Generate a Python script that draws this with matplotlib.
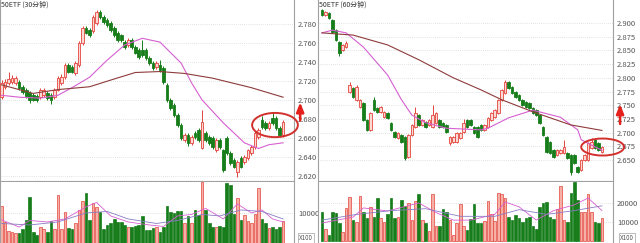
import matplotlib
matplotlib.use("Agg")
import matplotlib.pyplot as plt
from matplotlib.patches import Ellipse

plt.rcParams['font.family'] = ['Noto Sans CJK SC', 'DejaVu Sans']

# ---- 50ETF 30 minute candles (open, high, low, close) ----
l_open = [2.703,2.714,2.718,2.719,2.718,2.719,2.714,2.711,2.707,2.705,
          2.704,2.703,2.705,2.707,2.705,2.703,2.711,2.718,2.724,2.737,
          2.735,2.728,2.737,2.760,2.776,2.774,2.773,2.781,2.793,2.787,
          2.784,2.781,2.776,2.771,2.768,2.761,2.758,2.763,2.756,2.753,
          2.753,2.753,2.744,2.739,2.735,2.737,2.734,2.716,2.700,2.695,
          2.684,2.674,2.658,2.663,2.655,2.665,2.669,2.650,2.665,2.661,
          2.660,2.647,2.658,2.647,2.660,2.644,2.637,2.624,2.639,2.635,
          2.639,2.644,2.651,2.661,2.679,2.676,2.671,2.681,2.681,2.671,
          2.663]
l_high = [2.721,2.722,2.729,2.726,2.725,2.721,2.716,2.713,2.709,2.707,
          2.706,2.713,2.713,2.709,2.707,2.713,2.725,2.727,2.739,2.739,
          2.737,2.741,2.762,2.778,2.778,2.776,2.789,2.795,2.795,2.789,
          2.786,2.783,2.778,2.773,2.770,2.763,2.765,2.765,2.758,2.755,
          2.763,2.755,2.746,2.741,2.741,2.742,2.736,2.718,2.702,2.697,
          2.686,2.676,2.665,2.665,2.663,2.667,2.671,2.690,2.667,2.663,
          2.662,2.660,2.660,2.649,2.662,2.646,2.639,2.637,2.641,2.642,
          2.649,2.653,2.667,2.671,2.683,2.678,2.678,2.687,2.683,2.673,
          2.679]
l_low = [2.701,2.712,2.716,2.717,2.716,2.711,2.706,2.702,2.697,2.699,
         2.698,2.701,2.703,2.700,2.696,2.701,2.709,2.716,2.722,2.728,
         2.728,2.726,2.735,2.758,2.769,2.766,2.771,2.779,2.785,2.780,
         2.777,2.772,2.766,2.761,2.761,2.754,2.756,2.754,2.748,2.743,
         2.745,2.742,2.737,2.732,2.733,2.730,2.717,2.698,2.690,2.682,
         2.672,2.658,2.656,2.652,2.653,2.659,2.656,2.648,2.656,2.653,
         2.649,2.645,2.649,2.624,2.642,2.632,2.628,2.619,2.628,2.633,
         2.637,2.642,2.649,2.659,2.670,2.669,2.669,2.674,2.669,2.661,
         2.661]
l_close = [2.718,2.719,2.722,2.723,2.723,2.713,2.708,2.704,2.700,2.700,
           2.700,2.711,2.711,2.702,2.700,2.711,2.723,2.724,2.737,2.730,
           2.730,2.739,2.760,2.776,2.771,2.768,2.787,2.793,2.787,2.782,
           2.779,2.774,2.768,2.763,2.763,2.756,2.763,2.756,2.750,2.745,
           2.747,2.744,2.739,2.734,2.739,2.732,2.719,2.700,2.692,2.684,
           2.674,2.660,2.663,2.655,2.661,2.661,2.658,2.677,2.658,2.655,
           2.651,2.658,2.651,2.626,2.644,2.634,2.630,2.635,2.630,2.640,
           2.647,2.651,2.665,2.669,2.672,2.671,2.676,2.676,2.671,2.663,
           2.677]
l_vol = [12300,7000,4000,3700,3300,3300,4700,7700,15300,3700,
         2700,5300,4700,3500,7300,4700,16000,4700,10300,5000,
         4700,6700,11000,14000,16700,7700,13300,12000,10300,4700,
         6000,6700,8000,7000,7000,6000,5300,5300,5500,6000,
         9000,4300,4300,5000,5300,3700,5300,12300,10300,10000,
         10700,10700,6700,8900,6700,11000,9400,20300,11000,6700,
         5400,5400,5700,5300,20000,19300,9700,15000,7700,9400,
         7300,6700,9700,18300,8000,6700,5000,5300,4700,5300,
         7300]
# moving averages: (candle index, value)
l_ma_short_idx = [0, 5, 11, 16, 20, 25, 30, 35, 40, 45, 51, 54, 57, 63, 69, 73, 76, 80]
l_ma_short = [2.705, 2.703, 2.702, 2.705, 2.713, 2.724, 2.742, 2.758, 2.765, 2.761,
              2.739, 2.718, 2.700, 2.676, 2.655, 2.649, 2.653, 2.655]
l_ma_long_idx = [0, 5, 9, 16, 25, 31, 38, 45, 52, 60, 71, 80]
l_ma_long = [2.716, 2.711, 2.707, 2.711, 2.714, 2.721, 2.729, 2.730, 2.728, 2.723, 2.713, 2.703]
l_vma1_idx = [0, 5, 8, 13, 18, 24, 27, 31, 36, 42, 46, 50, 54, 58, 63, 67, 71, 74, 77, 80]
l_vma1 = [7700, 5300, 7500, 7000, 8000, 12000, 13500, 9000, 7000, 6000,
          5500, 9000, 9500, 11500, 8000, 13000, 10000, 11000, 8000, 7000]
l_vma2_idx = [0, 8, 16, 24, 30, 36, 44, 50, 57, 62, 68, 74, 80]
l_vma2 = [6500, 6000, 7000, 10000, 10500, 8000, 6500, 7500, 9500, 9000, 11000, 10500, 8000]
l_ticks = [2.62, 2.64, 2.66, 2.68, 2.70, 2.72, 2.74, 2.76, 2.78]

# ---- 50ETF 60 minute candles ----
r_open = [2.924,2.915,2.918,2.906,2.887,2.865,2.851,2.856,2.774,2.781,
          2.760,2.747,2.754,2.723,2.705,2.760,2.745,2.738,2.729,2.736,
          2.718,2.701,2.690,2.696,2.692,2.656,2.696,2.710,2.732,2.714,
          2.719,2.714,2.710,2.718,2.723,2.718,2.714,2.681,2.683,2.683,
          2.690,2.701,2.723,2.723,2.710,2.710,2.714,2.705,2.710,2.723,
          2.729,2.736,2.760,2.772,2.792,2.783,2.774,2.769,2.760,2.756,
          2.754,2.745,2.741,2.732,2.710,2.692,2.683,2.668,2.659,2.663,
          2.663,2.663,2.659,2.659,2.637,2.632,2.650,2.650,2.672,2.686,
          2.681,2.665]
r_high = [2.926,2.922,2.920,2.908,2.889,2.867,2.862,2.868,2.792,2.783,
          2.786,2.762,2.756,2.725,2.738,2.765,2.747,2.749,2.740,2.738,
          2.720,2.703,2.701,2.698,2.694,2.698,2.716,2.747,2.734,2.725,
          2.721,2.725,2.750,2.738,2.725,2.720,2.716,2.694,2.694,2.701,
          2.701,2.725,2.725,2.725,2.712,2.712,2.716,2.716,2.729,2.738,
          2.743,2.762,2.780,2.796,2.794,2.785,2.776,2.771,2.762,2.758,
          2.756,2.747,2.743,2.734,2.712,2.694,2.685,2.670,2.670,2.670,
          2.686,2.665,2.661,2.661,2.639,2.652,2.661,2.683,2.690,2.690,
          2.683,2.676]
r_low = [2.913,2.913,2.907,2.882,2.867,2.840,2.849,2.854,2.772,2.763,
         2.758,2.745,2.721,2.703,2.703,2.739,2.736,2.736,2.727,2.725,
         2.703,2.690,2.688,2.681,2.650,2.654,2.694,2.708,2.712,2.712,
         2.708,2.712,2.708,2.716,2.708,2.708,2.699,2.677,2.681,2.681,
         2.688,2.699,2.708,2.712,2.697,2.690,2.703,2.703,2.708,2.721,
         2.727,2.734,2.758,2.770,2.779,2.770,2.763,2.758,2.748,2.745,
         2.743,2.734,2.730,2.716,2.694,2.663,2.661,2.654,2.657,2.661,
         2.661,2.652,2.622,2.643,2.626,2.630,2.648,2.648,2.670,2.670,
         2.666,2.663]
r_close = [2.915,2.920,2.909,2.884,2.869,2.845,2.860,2.863,2.787,2.765,
           2.783,2.760,2.723,2.705,2.736,2.741,2.738,2.747,2.738,2.727,
           2.705,2.692,2.699,2.683,2.654,2.696,2.714,2.736,2.714,2.723,
           2.710,2.723,2.732,2.736,2.710,2.710,2.701,2.692,2.692,2.699,
           2.699,2.718,2.710,2.714,2.699,2.692,2.705,2.714,2.727,2.736,
           2.741,2.760,2.778,2.792,2.781,2.772,2.765,2.760,2.750,2.747,
           2.745,2.736,2.732,2.718,2.696,2.665,2.663,2.656,2.668,2.668,
           2.674,2.654,2.628,2.645,2.628,2.650,2.659,2.681,2.683,2.672,
           2.668,2.674]
r_vol = [15300,6300,3200,15300,14700,9500,4700,17400,23200,11000,
         10000,23500,15300,12100,17900,12600,22600,12100,10000,14200,
         22600,12100,12600,21600,18400,20000,11000,21000,24700,11000,
         9500,5500,24700,7900,7900,16900,15300,11000,3200,9500,
         19500,7900,5800,11600,19500,9500,9500,10500,21000,14200,
         10500,25300,24700,22600,12500,11000,13700,12100,10000,12100,
         12600,8000,6300,17900,20000,20400,12600,11600,16900,29000,
         11000,10000,25300,31000,21600,15300,15300,24700,15300,10000,
         9500,12100]
r_ma_short_idx = [0, 3, 7, 12, 19, 23, 26, 30, 36, 46, 48, 54, 61, 69, 74, 75, 79, 81]
r_ma_short = [2.882, 2.887, 2.882, 2.856, 2.805, 2.760, 2.732, 2.718, 2.708, 2.705,
              2.708, 2.727, 2.741, 2.728, 2.705, 2.687, 2.674, 2.668]
r_ma_long_idx = [0, 9, 19, 28, 38, 46, 52, 61, 72, 81]
r_ma_long = [2.882, 2.878, 2.860, 2.833, 2.800, 2.778, 2.760, 2.738, 2.714, 2.704]
r_vma1_idx = [0, 9, 12, 19, 28, 33, 38, 43, 50, 53, 57, 62, 67, 73, 77, 81]
r_vma1 = [9500, 12600, 17400, 15800, 20000, 15000, 11000, 11000, 14000, 20500,
          18000, 11000, 16000, 19000, 22600, 16000]
r_vma2_idx = [0, 10, 20, 30, 40, 50, 57, 65, 73, 81]
r_vma2 = [11000, 14000, 16000, 17000, 13000, 13000, 16500, 14000, 16000, 18500]
r_ticks = [2.650, 2.675, 2.700, 2.725, 2.750, 2.775, 2.800, 2.825, 2.850, 2.875, 2.900]

UP_EDGE = '#e2453c'
UP_FACE = '#fcd9d4'
DOWN = '#177d1a'
GRID = '#c8c8c8'
AXC = '#a0a0a0'
TXT = '#555555'

W, H = 640, 243
fig = plt.figure(figsize=(W / 100, H / 100), dpi=100)


def px_axes(x0, y0, x1, y1):
    # pixel box (top-left origin) -> figure axes
    return fig.add_axes([x0 / W, 1 - y1 / H, (x1 - x0) / W, (y1 - y0) / H])


def style(ax, ticks, fmt):
    ax.set_facecolor('white')
    for s in ('top', 'bottom'):
        ax.spines[s].set_visible(False)
    for s in ('left', 'right'):
        ax.spines[s].set_color(AXC)
        ax.spines[s].set_linewidth(0.8)
    ax.yaxis.tick_right()
    ax.set_yticks(ticks)
    ax.set_yticklabels([fmt.format(t) for t in ticks])
    ax.tick_params(axis='y', length=0, pad=3, labelsize=5.5, labelcolor=TXT)
    ax.set_xticks([])
    for t in ticks:
        ax.axhline(t, color=GRID, lw=0.5, ls=(0, (1, 2)), zorder=0)


def draw_panel(ax, axv, o, h, l, c, vol, ms_i, ms, ml_i, ml, v1_i, v1, v2_i, v2,
               ticks, fmt, ylim, vticks, vlim, xlim, title):
    n = len(c)
    for i in range(n):
        up = c[i] >= o[i]
        col = UP_EDGE if up else DOWN
        ax.vlines(i, l[i], h[i], color=col, lw=0.7, zorder=2)
        lo, hi = min(o[i], c[i]), max(o[i], c[i])
        ax.bar(i, max(hi - lo, 0.0008), bottom=lo, width=0.75,
               color=UP_FACE if up else DOWN, edgecolor=col, lw=0.6, zorder=3)
        axv.bar(i, vol[i], width=0.75, color='#f6b0a6' if up else DOWN,
                edgecolor=col, lw=0.5, zorder=2)
    ax.plot(ms_i, ms, color='#d65fd1', lw=0.8, zorder=4)
    ax.plot(ml_i, ml, color='#8e3b3b', lw=0.8, zorder=4)
    axv.plot(v1_i, v1, color='#d65fd1', lw=0.6, zorder=4)
    axv.plot(v2_i, v2, color='#8a7bc4', lw=0.6, zorder=4)

    style(ax, ticks, fmt)
    ax.spines['bottom'].set_visible(True)
    ax.spines['bottom'].set_color(AXC)
    ax.spines['bottom'].set_linewidth(0.8)
    ax.set_ylim(*ylim)
    ax.set_xlim(*xlim)
    ax.text(0.004, 0.995, title, transform=ax.transAxes, ha='left', va='top',
            fontsize=5, color='#333333')

    style(axv, vticks, '{:.0f}')
    axv.set_ylim(*vlim)
    axv.set_xlim(*xlim)


axL = px_axes(0, 0, 294, 181)
axLv = px_axes(0, 182, 294, 243)
axR = px_axes(318, 0, 613, 181)
axRv = px_axes(318, 182, 613, 243)

draw_panel(axL, axLv, l_open, l_high, l_low, l_close, l_vol,
           l_ma_short_idx, l_ma_short, l_ma_long_idx, l_ma_long,
           l_vma1_idx, l_vma1, l_vma2_idx, l_vma2,
           l_ticks, '{:.3f}', (2.6148, 2.8053), [10000], (0, 20300),
           (-0.45, 83.1), '50ETF (30分钟)')
draw_panel(axR, axRv, r_open, r_high, r_low, r_close, r_vol,
           r_ma_short_idx, r_ma_short, r_ma_long_idx, r_ma_long,
           r_vma1_idx, r_vma1, r_vma2_idx, r_vma2,
           r_ticks, '{:.3f}', (2.6117, 2.942), [10000, 20000], (-1000, 31000),
           (-1.15, 84.2), '50ETF (60分钟)')

# red circles around the latest candles
axL.add_patch(Ellipse((77.7, 2.6737), 13.0, 0.0255, fill=False,
                      edgecolor='#d2302c', lw=1.4, zorder=6, clip_on=False))
axR.add_patch(Ellipse((81.2, 2.6737), 12.4, 0.031, fill=False,
                      edgecolor='#d2302c', lw=1.4, zorder=6, clip_on=False))

# red up arrows beside the price scale
for ax, x, y0, y1 in ((axL, 1.021, 0.32, 0.45), (axR, 1.024, 0.30, 0.44)):
    ax.annotate('', xy=(x, y1), xytext=(x, y0), xycoords='axes fraction',
                arrowprops=dict(arrowstyle='-|>,head_width=0.22,head_length=0.55',
                                color='#e3201b', lw=1.8), annotation_clip=False)

# unit boxes under the volume scale
for xp in (306, 627):
    fig.text(xp / W, 1 - 238 / H, 'X100', ha='center', va='center', fontsize=4.5,
             color=TXT, bbox=dict(boxstyle='square,pad=0.15', fc='white',
                                  ec=AXC, lw=0.5))

fig.savefig('out.png', dpi=100, facecolor='white')
